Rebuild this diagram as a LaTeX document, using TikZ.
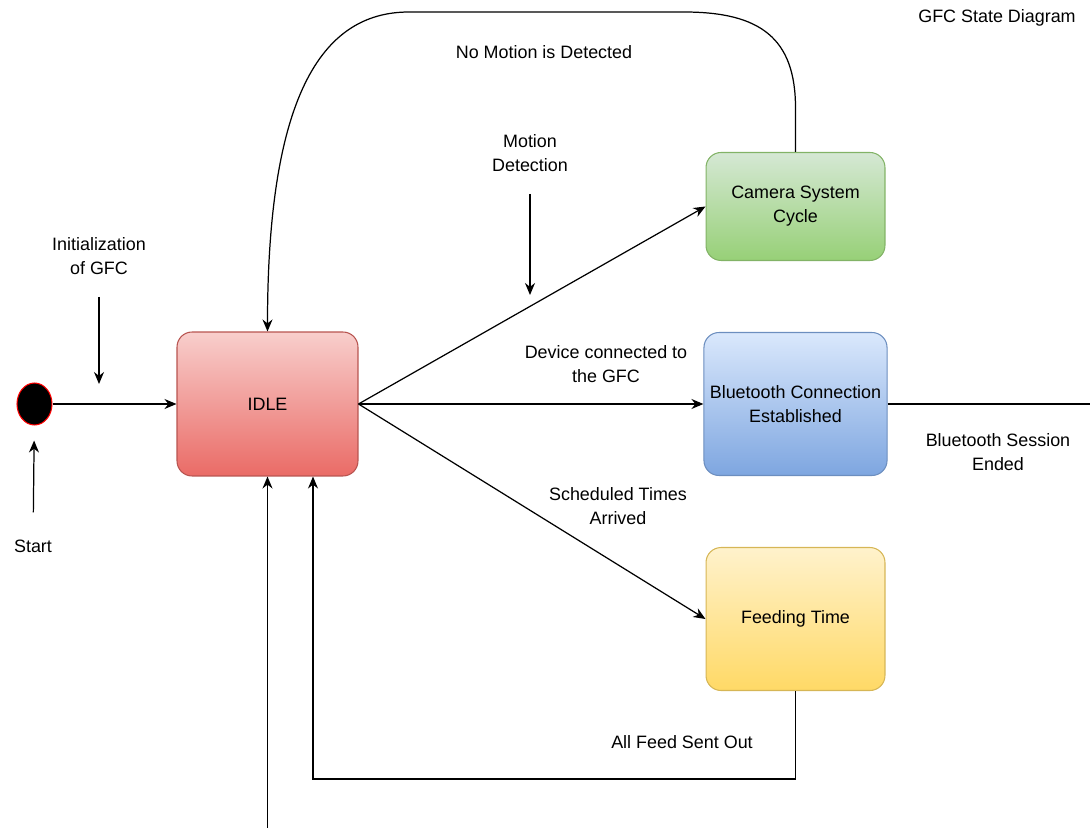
\documentclass[tikz,border=0pt]{standalone}
\usepackage{fontspec}
\setmainfont{Liberation Sans}
\usetikzlibrary{positioning, shapes.geometric, arrows.meta, calc}

\definecolor{idletop}{HTML}{F8CECC}
\definecolor{idlebot}{HTML}{EA6B66}
\definecolor{idleline}{HTML}{B85450}
\definecolor{camtop}{HTML}{D5E8D4}
\definecolor{cambot}{HTML}{97D077}
\definecolor{camline}{HTML}{82B366}
\definecolor{bttop}{HTML}{DAE8FC}
\definecolor{btbot}{HTML}{7EA6E0}
\definecolor{btline}{HTML}{6C8EBF}
\definecolor{feedtop}{HTML}{FFF2CC}
\definecolor{feedbot}{HTML}{FFD966}
\definecolor{feedline}{HTML}{D6B656}

\begin{document}
\begin{tikzpicture}[
    x=0.02cm, y=-0.02cm,
    >={Stealth[length=2.4mm, width=2mm]},
    line width=0.7pt,
    font=\fontsize{10.2}{13.6}\selectfont,
    node distance=1.42cm and 6.9cm,
    arrow/.style={
        ->,
        line width=0.7pt
    },
    state/.style={
        rectangle,
        rounded corners=3mm,
        draw,
        line width=0.6pt,
        minimum width=3.58cm,
        minimum height=2.86cm,
        align=center
    },
    idlestate/.style={
        state,
        top color=idletop,
        bottom color=idlebot,
        draw=idleline,
        minimum width=3.62cm,
        minimum height=2.88cm
    },
    camstate/.style={
        state,
        top color=camtop,
        bottom color=cambot,
        draw=camline,
        minimum height=2.16cm
    },
    btstate/.style={
        state,
        top color=bttop,
        bottom color=btbot,
        draw=btline
    },
    feedstate/.style={
        state,
        top color=feedtop,
        bottom color=feedbot,
        draw=feedline
    },
    startdot/.style={
        ellipse,
        draw=red,
        fill=black,
        line width=0.6pt,
        minimum width=0.7cm,
        minimum height=0.84cm,
        inner sep=0pt
    },
    note/.style={
        align=center,
        inner sep=1pt
    }
]
    \useasboundingbox (0,0) rectangle (1090,828);

    % IDLE
    \node[idlestate] (idle) at (267.5,404) {IDLE};

    % Start
    \node[startdot, left=2.48cm of idle] (dot) {};
    \draw[arrow] (dot) -- (idle);
    \node[note] (start) at (33,546) {Start};
    \draw[arrow, shorten <=0.5cm, shorten >=0.3cm] (start) -- (dot);

    % Initialization
    \node[note] (init) at (99,256) {Initialization\\of GFC};
    \coordinate (initend) at (99,384);
    \draw[arrow, shorten <=0.4cm] (init) -- (initend);

    % States
    \node[btstate, right=of idle] (bt) {Bluetooth Connection\\Established};
    \node[camstate, above=of bt] (cam) {Camera System\\Cycle};
    \node[feedstate, below=of bt] (feed) {Feeding Time};

    % Transitions from IDLE
    \draw[arrow] (idle.east) -- (cam.west);
    \draw[arrow] (idle.east) -- (bt.west);
    \draw[arrow] (idle.east) -- (feed.west);

    \node[note] (motion) at (530,153) {Motion\\Detection};
    \coordinate (motionend) at (530,295);
    \draw[arrow, shorten <=0.4cm] (motion) -- (motionend);
    \node[note] (devlbl) at (606,364) {Device connected to\\the GFC};
    \node[note] (schedlbl) at (618,506) {Scheduled Times\\Arrived};

    % No motion: back to IDLE
    \draw[arrow] (cam.north) -- ++(0,-44)
        .. controls +(0,-70) and +(76,0) .. (684,12)
        -- (409,12)
        .. controls +(-89,0) and +(0,-232) .. (idle.north);
    \node[note] (nomotion) at (544,52) {No Motion is Detected};

    % Bluetooth ended
    \coordinate (btend) at (1090,0);
    \draw (bt.east) -- (bt.east -| btend);
    \node[note] (btlbl) at (998,452) {Bluetooth Session\\Ended};

    % Feed sent out
    \draw[arrow] (feed.south) -- ++(0,88) -| ($(idle.south)+(45.5,0)$);
    \node[note] (feedlbl) at (682,742) {All Feed Sent Out};

    % Incoming from below
    \coordinate (bottomin) at (267.5,828);
    \draw[arrow] (bottomin) -- (idle.south);

    % Title
    \node[note] (title) at (997,18) {GFC State Diagram};

\end{tikzpicture}
\end{document}
